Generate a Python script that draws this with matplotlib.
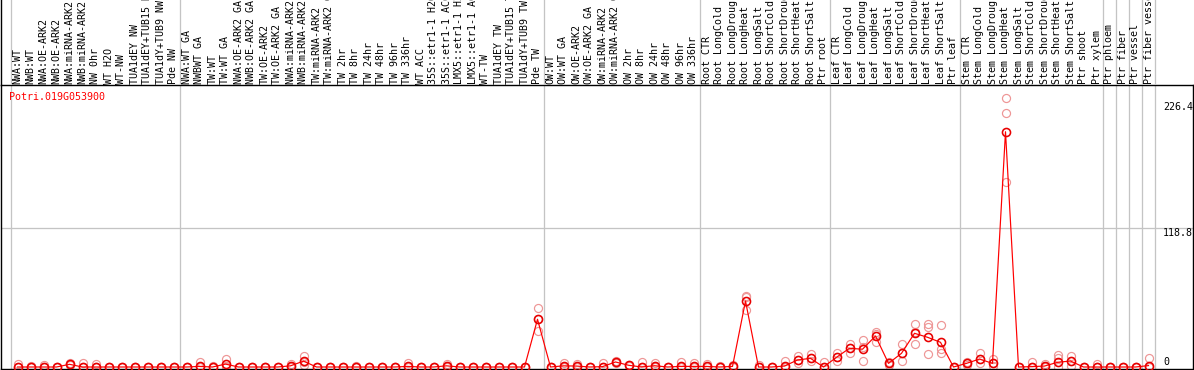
import matplotlib
matplotlib.use('Agg')
import matplotlib.pyplot as plt

# Sample labels (column order as shown in the chart)
samples = ['NWA:WT', 'NWB:WT', 'NWA:OE-ARK2', 'NWB:OE-ARK2', 'NWA:miRNA-ARK2',
           'NWB:miRNA-ARK2', 'NW 0hr', 'WT H2O', 'WT-NW', 'TUA1dEY NW',
           'TUA1dEY+TUB15 NW', 'TUA1dY+TUB9 NW', 'Pde NW',
           'NWA:WT GA', 'NWBWT GA', 'TW:WT', 'TW:WT GA', 'NWA:OE-ARK2 GA',
           'NWB:OE-ARK2 GA', 'TW:OE-ARK2', 'TW:OE-ARK2 GA', 'NWA:miRNA-ARK2 GA',
           'NWB:miRNA-ARK2 GA', 'TW:miRNA-ARK2', 'TW:miRNA-ARK2 GA', 'TW 2hr',
           'TW 8hr', 'TW 24hr', 'TW 48hr', 'TW 96hr', 'TW 336hr', 'WT ACC',
           '35S::etr1-1 H2O', '35S::etr1-1 ACC', 'LMX5::etr1-1 H2O',
           'LMX5::etr1-1 ACC', 'WT-TW', 'TUA1dEY TW', 'TUA1dEY+TUB15 TW',
           'TUA1dY+TUB9 TW', 'Pde TW',
           'OW:WT', 'OW:WT GA', 'OW:OE-ARK2', 'OW:OE-ARK2 GA', 'OW:miRNA-ARK2',
           'OW:miRNA-ARK2 GA', 'OW 2hr', 'OW 8hr', 'OW 24hr', 'OW 48hr',
           'OW 96hr', 'OW 336hr',
           'Root CTR', 'Root LongCold', 'Root LongDrought', 'Root LongHeat',
           'Root LongSalt', 'Root ShortCold', 'Root ShortDrought',
           'Root ShortHeat', 'Root ShortSalt', 'Ptr root',
           'Leaf CTR', 'Leaf LongCold', 'Leaf LongDrought', 'Leaf LongHeat',
           'Leaf LongSalt', 'Leaf ShortCold', 'Leaf ShortDrought',
           'Leaf ShortHeat', 'Leaf ShortSalt', 'Ptr leaf',
           'Stem CTR', 'Stem LongCold', 'Stem LongDrought', 'Stem LongHeat',
           'Stem LongSalt', 'Stem ShortCold', 'Stem ShortDrought',
           'Stem ShortHeat', 'Stem ShortSalt', 'Ptr shoot', 'Ptr xylem',
           'Ptr phloem', 'Ptr fiber', 'Ptr vessel', 'Ptr fiber vessel']

# first column index of each group (last entry = number of columns)
group_starts = [0, 13, 41, 53, 63, 73, 84, 85, 86, 87, 88]

gene = 'Potri.019G053900'

# mean expression per sample (rows of 10)
means = [0, 0, 0, 0, 2.3, 0, 0, 0, 0, 0,
         0, 0, 0, 0, 0.5, 0, 2.5, 0, 0, 0,
         0, 1, 5, 0, 0, 0, 0, 0, 0, 0,
         0.5, 0, 0, 1, 0, 0, 0, 0, 0, 0,
         40.8, 0, 1, 0.8, 0, 0.3, 4.3, 1.5, 0, 1.1,
         0, 0.5, 0.5, 0.5, 0, 0.5, 56.4, 0, 0, 0.8,
         6, 7.4, 0, 8.3, 16, 15.2, 26.5, 3.1, 11.7, 28.8,
         25.4, 21.1, 0, 3.1, 6.8, 3.1, 201.1, 0, 0.3, 0.8,
         4, 5.1, 0, 0, 0, 0, 0, 1.2]

# replicate values per sample (rows of 5)
replicates = [[0, 0, 2.5], [0, 0, 1.2], [0, 0, 2], [0, 0, 0], [1.5, 2.3, 3],
              [0, 0, 3], [0, 0, 2.5], [0, 0, 0], [0, 0, 0], [0, 0, 0],
              [0, 0, 0], [0, 0, 0], [0, 0, 0], [0, 0, 0], [0, 0, 4.5],
              [0, 0, 1], [0, 0.5, 7], [0, 0, 0], [0, 0, 0], [0, 0, 0],
              [0, 0, 0], [0, 1, 2.5], [1.7, 4, 9], [0, 0, 0], [0, 0, 0],
              [0, 0, 0], [0, 0, 1], [0, 0, 0], [0, 0, 0], [0, 0, 0],
              [0, 0, 3], [0, 0, 0], [0, 0, 0], [0, 0.5, 2.5], [0, 0, 0],
              [0, 0, 0], [0, 0, 0], [0, 0, 0], [0, 0, 0], [0, 0, 0],
              [31, 41, 50.2], [0, 0, 0], [0, 0, 3.7], [0, 0, 2.5], [0, 0, 0],
              [0, 0, 3], [3.5, 4.3, 5], [1, 1.5, 2], [0, 0, 4.5], [0, 0.5, 3.7],
              [0, 0, 0], [0, 0, 4.5], [0, 0, 3], [0, 0, 2.5], [0, 0, 1],
              [0, 0, 1.8], [48.7, 59.5, 61], [0, 0, 2], [0, 0, 0], [0, 0.3, 5.4],
              [3, 6, 9.4], [5, 7.4, 11], [0, 0, 4.5], [5.4, 8.3, 11.7], [12, 16, 19.7],
              [5, 17.5, 23], [21.6, 28, 30], [1.5, 3.1, 4.5], [5, 11.7, 19.4], [19.4, 30, 36.8],
              [10.8, 33.9, 36.5], [12.2, 15, 35.9], [0, 0, 0], [1.5, 3.1, 4.5], [3, 6.8, 11.7],
              [1, 3.1, 6.8], [157.9, 216.8, 229.7], [0, 0, 0], [0, 0.3, 4], [0, 0.5, 2.5],
              [0, 7.4, 10.3], [1, 5.1, 9.4], [0, 0, 0], [0, 0, 2.6], [0, 0, 0],
              [0, 0, 0], [0, 0, 0], [0, 0, 7.4]]

ytick_values = [0, 118.8, 226.4]
ytick_labels = ['0', '118.8', '226.4']

W, H = 1194, 370
fig = plt.figure(figsize=(W / 100, H / 100), dpi=100)
fig.patch.set_facecolor('white')

mono = 'DejaVu Sans Mono'
fs = 7.2
px = 0.72  # one pixel in points
gray = '#c4c4c4'

# column units: column i centred on i, 13 px wide, first column starts at x=11 px
col_w = 13.0
x_left = -0.5 - 10 / col_w
x_right = -0.5 + (1193 - 11) / col_w

# main plot axes (y 85..369 px)
ax = fig.add_axes([1 / W, (H - 369) / H, 1192 / W, 284 / H])
y_scale = 1.17  # px per unit, zero at 367 px
ax.set_xlim(x_left, x_right)
ax.set_ylim((367 - 369) / y_scale, (367 - 85) / y_scale)
ax.set_xticks([])
ax.set_yticks([])
for s in ax.spines.values():
    s.set_color('black')
    s.set_linewidth(1.4 * px)

# header axes with sample names (y 0..85 px)
axh = fig.add_axes([1 / W, (H - 85) / H, 1192 / W, 85 / H])
axh.set_xlim(x_left, x_right)
axh.set_ylim(85, 0)
axh.set_xticks([])
axh.set_yticks([])
axh.patch.set_alpha(0)
for name, s in axh.spines.items():
    s.set_visible(name == 'left')
    s.set_color('black')
    s.set_linewidth(1.4 * px)

# group separators
for g in group_starts:
    ax.axvline(g - 0.5, color=gray, lw=1.3 * px, zorder=0)
    axh.axvline(g - 0.5, color=gray, lw=1.3 * px, zorder=0)

ax.axhline(118.8, color=gray, lw=1.3 * px, zorder=0)

for i, name in enumerate(samples):
    axh.text(i, 84, name, rotation=90, ha='center', va='bottom',
             fontsize=fs, family=mono, color='black', clip_on=True)

# replicates
rep_x = [i for i, reps in enumerate(replicates) for _ in reps]
rep_y = [v for reps in replicates for v in reps]
ax.plot(rep_x, rep_y, linestyle='none', marker='o', markersize=5.8,
        markerfacecolor='none', markeredgecolor='#ee9696',
        markeredgewidth=1.2 * px, zorder=2, clip_on=False)

# means
x = list(range(len(means)))
ax.plot(x, means, color='#ff0000', lw=1.2 * px, zorder=3, clip_on=False)
ax.plot(x, means, linestyle='none', marker='o', markersize=5.8,
        markerfacecolor='none', markeredgecolor='#e80000',
        markeredgewidth=1.6 * px, zorder=4, clip_on=False)

# y labels on the right
label_x = -0.5 + (1163 - 11) / col_w
for v, lab in zip(ytick_values, ytick_labels):
    ax.text(label_x, v, lab, ha='left', va='bottom' if v == 0 else 'top',
            fontsize=fs, family=mono, color='black')

fig.text(9 / W, 1 - 100 / H, gene, ha='left', va='baseline',
         fontsize=fs, family=mono, color='#ff0000')

fig.savefig('out.png', dpi=100)
